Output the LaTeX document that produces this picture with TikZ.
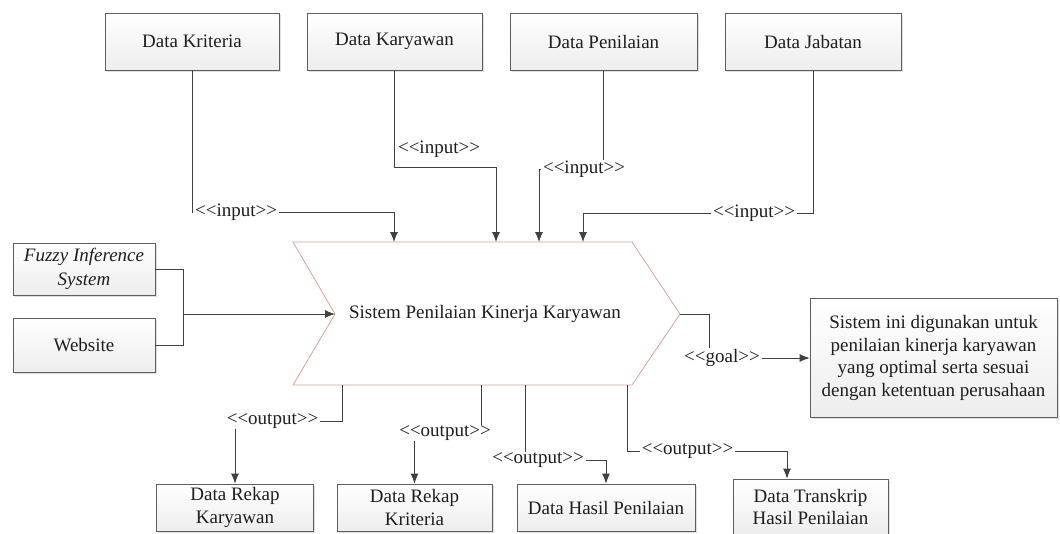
\documentclass[tikz,border=0pt]{standalone}
\usepackage{fontspec}
\setmainfont{Liberation Serif}
\usetikzlibrary{arrows.meta,shadows}
\definecolor{linec}{HTML}{404040}
\definecolor{boxedge}{HTML}{5E5E5E}
\definecolor{chev}{HTML}{D6A3A3}
\definecolor{txt}{HTML}{1E1E1E}
% stereotype label such as <<input>>, kept free of the guillemet ligature
\newcommand\stereo[1]{<\kern0pt<#1>\kern0pt>}

\begin{document}
\begin{tikzpicture}[x=1pt,y=-1pt,
  font=\fontsize{19}{22.5}\selectfont, text=txt,
  box/.style={draw=boxedge, line width=0.8pt, top color=white, bottom color=gray!14,
    inner sep=0pt, align=center,
    drop shadow={opacity=0.25, shadow xshift=1.5pt, shadow yshift=-1.5pt}},
  conn/.style={draw=linec, line width=0.8pt},
  arr/.style={conn, -{Latex[length=10pt,width=8pt]}},
  lbl/.style={fill=white, inner ysep=1pt, inner xsep=2pt},
]
\useasboundingbox (0,0) rectangle (1060,533);
\fill[white] (0,0) rectangle (1060,533);

% data sources
\node[box, minimum width=174pt, minimum height=57pt] (kri) at (192,41.5) {Data Kriteria};
\node[box, minimum width=175pt, minimum height=57pt] (kar) at (394.5,41.5) {Data Karyawan};
\node[box, minimum width=187pt, minimum height=57pt] (pen) at (603.5,41.5) {Data Penilaian};
\node[box, minimum width=176pt, minimum height=57pt] (jab) at (813,41.5) {Data Jabatan};

% tools
\node[box, minimum width=142pt, minimum height=52pt, font=\fontsize{19}{24}\selectfont\itshape] (fis) at (84,269) {Fuzzy Inference\\System};
\node[box, minimum width=142pt, minimum height=54pt] (web) at (84,345) {Website};

% goal
\node[box, minimum width=247pt, minimum height=119pt] (goal) at (933.5,358)
  {Sistem ini digunakan untuk\\penilaian kinerja karyawan\\yang optimal serta sesuai\\dengan ketentuan perusahaan};

% outputs
\node[box, minimum width=157pt, minimum height=47pt] (rk) at (235,507.5) {Data Rekap\\Karyawan};
\node[box, minimum width=155pt, minimum height=47pt] (rc) at (414.5,507.5) {Data Rekap\\Kriteria};
\node[box, minimum width=178pt, minimum height=47pt] (hp) at (606,507.5) {Data Hasil Penilaian};
\node[box, minimum width=155pt, minimum height=56pt] (tr) at (810.5,507) {Data Transkrip\\Hasil Penilaian};

% the system (chevron)
\draw[draw=chev, fill=white, line width=0.8pt]
  (293,242) -- (632,242) -- (680,314) -- (632,385) -- (293,385) -- (335,314) -- cycle;
\node (sys) at (485,314) {Sistem Penilaian Kinerja Karyawan};
\coordinate (notch) at (335,314);
\coordinate (tip) at (680,314);
\coordinate (in1) at (394,242);
\coordinate (in2) at (496,242);
\coordinate (in3) at (539,242);
\coordinate (in4) at (583,242);
\coordinate (o1) at (342,385);
\coordinate (o2) at (481,385);
\coordinate (o3) at (525,385);
\coordinate (o4) at (627,385);
\coordinate (join) at (183,314);
\coordinate (trin) at ([xshift=-23.5pt]tr.north);

% inputs
\draw[arr] (kri.south) |- (in1 |- 0,212) -- (in1);
\draw[arr] (kar.south) |- (in2 |- 0,167) -- (in2);
\draw[arr] (pen.south) |- (in3 |- 0,169) -- (in3);
\draw[arr] (jab.south) |- (in4 |- 0,213) -- (in4);
\node[lbl, anchor=west] (li1) at (193,212) {\stereo{input}};
\node[inner sep=1pt] (li2) at (439,149) {\stereo{input}};
\node[lbl] (li3) at (584,169) {\stereo{input}};
\node[lbl] (li4) at (754,213) {\stereo{input}};

% tools into the system
\draw[conn] (fis.east) -| (join);
\draw[conn] (web.east) -| (join);
\draw[arr] (join) -- (notch);

% goal
\draw[arr] (tip) -| (709,358) -- (goal.west);
\node[lbl] (lg) at (722,358) {\stereo{goal}};

% outputs
\draw[arr] (o1) |- (rk.north |- 0,421) -- (rk.north);
\draw[arr] (o2) |- (rc.north |- 0,433) -- (rc.north);
\draw[arr] (o3) |- (hp.north |- 0,460) -- (hp.north);
\draw[arr] (o4) |- (trin |- 0,451) -- (trin);
\node[lbl] (lo1) at (272.5,421) {\stereo{output}};
\node[lbl] (lo2) at (445,433) {\stereo{output}};
\node[lbl] (lo3) at (538,460) {\stereo{output}};
\node[lbl] (lo4) at (687.5,451) {\stereo{output}};
\end{tikzpicture}
\end{document}
